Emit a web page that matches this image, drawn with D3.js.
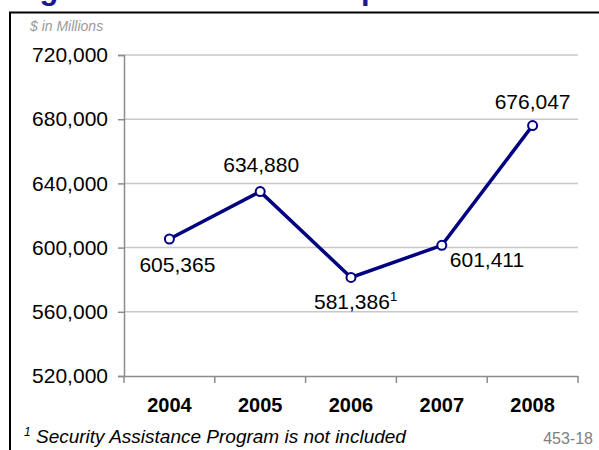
<!DOCTYPE html>
<html>
<head>
<meta charset="utf-8">
<script src="https://cdnjs.cloudflare.com/ajax/libs/d3/7.8.5/d3.min.js"></script>
<style>
    body { margin: 0; background: #fff; }
    svg { display: block; font-family: Arial, "Liberation Sans", sans-serif; }
</style>
</head>
<body>
<div id="chart"></div>
<script>
const years = ['2004', '2005', '2006', '2007', '2008']
const values = [605365, 634880, 581386, 601411, 676047]
const yTicks = [520000, 560000, 600000, 640000, 680000, 720000]
// where each value label sits relative to its point: [dx, dy, anchor]
const labelPos = [[8, 33, 'middle'], [1, -20, 'middle'], [-37, 32, 'start'], [8, 22, 'start'], [0, -17, 'middle']]
const labelNote = ['', '', '1', '', '']

const width = 599, height = 450
const margin = { top: 55, right: 21, bottom: 74, left: 124 }

const svg = d3.select('#chart').append('svg')
    .attr('width', width)
    .attr('height', height)

// title, mostly cut off above the frame
svg.append('text')
    .attr('x', 12)
    .attr('y', -1.5)
    .attr('fill', '#1a1a8c')
    .attr('font-size', 31)
    .attr('font-weight', 'bold')
    .text('Figure 3: Total Sector Operations')

svg.append('rect')
    .attr('x', 10).attr('y', 12.5)
    .attr('width', 600).attr('height', 450)
    .attr('fill', 'none')
    .attr('stroke', '#000')
    .attr('stroke-width', 2)

const x = d3.scaleBand()
    .domain(years)
    .range([margin.left, width - margin.right])

const y = d3.scaleLinear()
    .domain([520000, 720000])
    .range([height - margin.bottom, margin.top])

// gridlines
svg.append('g')
    .selectAll('line')
    .data(yTicks.slice(1))
    .join('line')
    .attr('x1', margin.left).attr('x2', width - margin.right)
    .attr('y1', d => y(d)).attr('y2', d => y(d))
    .attr('stroke', '#c8c8c8')
    .attr('stroke-width', 1.5)

const yAxis = svg.append('g')
    .attr('transform', `translate(${margin.left},0)`)
    .call(d3.axisLeft(y).tickValues(yTicks).tickSize(6).tickPadding(10).tickFormat(d3.format(',')))
yAxis.select('.domain').attr('stroke', '#8c8c8c').attr('stroke-width', 1.5)
yAxis.selectAll('.tick line').attr('stroke', '#8c8c8c').attr('stroke-width', 1.5)
yAxis.selectAll('text').attr('font-size', 21).attr('fill', '#000')

const xAxis = svg.append('g')
    .attr('transform', `translate(0,${height - margin.bottom})`)
    .call(d3.axisBottom(x).tickSize(0).tickPadding(22))
xAxis.select('.domain').attr('stroke', '#8c8c8c').attr('stroke-width', 1.5)
xAxis.selectAll('text').attr('font-size', 20).attr('font-weight', 'bold').attr('fill', '#000')

// tick marks between the categories
const edges = years.map(d => x(d)).concat([x.range()[1]])
svg.append('g')
    .selectAll('line')
    .data(edges)
    .join('line')
    .attr('x1', d => d).attr('x2', d => d)
    .attr('y1', height - margin.bottom).attr('y2', height - margin.bottom + 7)
    .attr('stroke', '#8c8c8c')
    .attr('stroke-width', 1.5)

const cx = d => x(d) + x.bandwidth() / 2

const line = d3.line()
    .x((d, i) => cx(years[i]))
    .y(d => y(d))

svg.append('path')
    .datum(values)
    .attr('d', line)
    .attr('fill', 'none')
    .attr('stroke', '#000080')
    .attr('stroke-width', 3.5)

svg.append('g')
    .selectAll('circle')
    .data(values)
    .join('circle')
    .attr('cx', (d, i) => cx(years[i]))
    .attr('cy', d => y(d))
    .attr('r', 4.5)
    .attr('fill', '#fff')
    .attr('stroke', '#000080')
    .attr('stroke-width', 2)

const labels = svg.append('g')
    .selectAll('text')
    .data(values)
    .join('text')
    .attr('x', (d, i) => cx(years[i]) + labelPos[i][0])
    .attr('y', (d, i) => y(d) + labelPos[i][1])
    .attr('text-anchor', (d, i) => labelPos[i][2])
    .attr('font-size', 21)
    .attr('fill', '#000')
    .text(d => d3.format(',')(d))
labels.append('tspan')
    .attr('font-size', 13)
    .attr('dy', -8)
    .text((d, i) => labelNote[i])

svg.append('text')
    .attr('x', 30).attr('y', 31)
    .attr('font-size', 14)
    .attr('font-style', 'italic')
    .attr('fill', '#9a9a9a')
    .text('$ in Millions')

const note = svg.append('text')
    .attr('x', 24).attr('y', 443)
    .attr('font-size', 19)
    .attr('font-style', 'italic')
    .attr('fill', '#000')
note.append('tspan').attr('font-size', 12).attr('dy', -7).text('1')
note.append('tspan').attr('dy', 7).text(' Security Assistance Program is not included')

svg.append('text')
    .attr('x', 593).attr('y', 444)
    .attr('text-anchor', 'end')
    .attr('font-size', 16)
    .attr('fill', '#808080')
    .text('453-18')
</script>
</body>
</html>
